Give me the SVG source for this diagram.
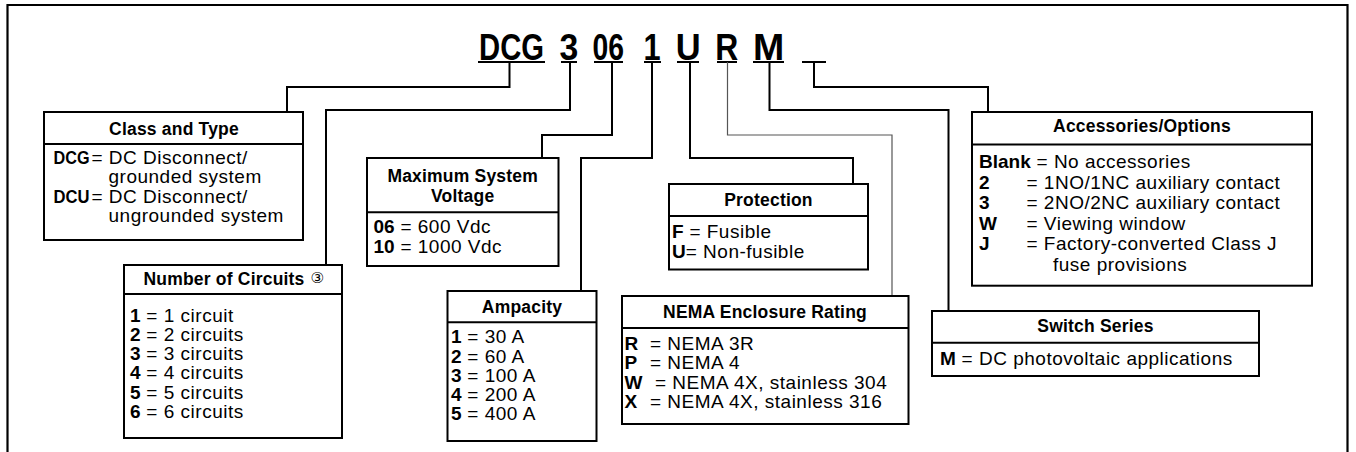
<svg xmlns="http://www.w3.org/2000/svg" width="1356" height="452" viewBox="0 0 1356 452">
<style>
.frame{fill:none;stroke:#000;stroke-width:2.2}
.box{fill:#fff;stroke:#000;stroke-width:2}
.sep{stroke:#000;stroke-width:2}
.con{fill:none;stroke:#000;stroke-width:2}
.con2{fill:none;stroke:#555;stroke-width:1.2}
.ul{stroke:#000;stroke-width:2}
text{font-family:"Liberation Sans",Arial,sans-serif;fill:#000}
.t{font-size:37.5px;font-weight:bold;text-anchor:middle}
.h{font-size:17.5px;font-weight:bold;text-anchor:middle;letter-spacing:0.2px}
.b{font-size:19px;letter-spacing:0.5px}
.k{font-weight:bold;letter-spacing:0}
</style>
<path class="frame" d="M7.5,452 V5 H1347.5 V452"/>
<g id="title">
<text class="t" transform="translate(511.5,60) scale(0.78,1)">DCG</text>
<text class="t" transform="translate(569,60) scale(0.9,1)">3</text>
<text class="t" transform="translate(608.3,60) scale(0.755,1)">06</text>
<text class="t" transform="translate(652,60) scale(0.82,1)">1</text>
<text class="t" transform="translate(688.3,60) scale(0.92,1)">U</text>
<text class="t" transform="translate(726.7,60) scale(0.85,1)">R</text>
<text class="t" transform="translate(768.7,60) scale(1,1)">M</text>
<line class="ul" x1="478" y1="62" x2="545" y2="62"/>
<line class="ul" x1="561" y1="62" x2="577" y2="62"/>
<line class="ul" x1="594" y1="62" x2="623" y2="62"/>
<line class="ul" x1="644" y1="62" x2="661" y2="62"/>
<line class="ul" x1="677" y1="62" x2="699" y2="62"/>
<line class="ul" x1="717" y1="62" x2="737" y2="62"/>
<line class="ul" x1="753" y1="62" x2="784" y2="62"/>
<line class="ul" x1="802" y1="62" x2="826" y2="62"/>
</g>
<g id="connectors">
<path class="con" d="M509.5,62 V87 H287 V112"/>
<path class="con" d="M570,62 V110 H326 V265"/>
<path class="con" d="M612,62 V135 H542 V158"/>
<path class="con" d="M652,62 V158 H581 V291"/>
<path class="con" d="M690,62 V158 H853 V184"/>
<path class="con2" d="M727.5,62 V135 H892 V296"/>
<path class="con" d="M769.5,62 V110 H948.5 V311"/>
<path class="con" d="M814,62 V87 H988 V112"/>
</g>
<g id="class-type">
<rect class="box" x="44" y="112" width="259" height="128"/>
<line class="sep" x1="44" y1="144" x2="303" y2="144"/>
<text class="h" x="174" y="134.7">Class and Type</text>
<text class="b k" x="53.5" y="164" textLength="36" lengthAdjust="spacingAndGlyphs">DCG</text>
<text class="b" x="91.5" y="164">= DC Disconnect/</text>
<text class="b" x="108.5" y="183.3">grounded system</text>
<text class="b k" x="53.5" y="202.5" textLength="36" lengthAdjust="spacingAndGlyphs">DCU</text>
<text class="b" x="91.5" y="202.5">= DC Disconnect/</text>
<text class="b" x="108.5" y="221.5">ungrounded system</text>
</g>
<g id="circuits">
<rect class="box" x="124" y="265" width="218" height="173"/>
<line class="sep" x1="124" y1="294" x2="342" y2="294"/>
<text class="h" x="224" y="285">Number of Circuits</text>
<text x="310.5" y="283" style="font-family:'DejaVu Sans',sans-serif;font-size:15px">③</text>
<text class="b" x="130" y="321.5"><tspan class="k">1</tspan> = 1 circuit</text>
<text class="b" x="130" y="340.8"><tspan class="k">2</tspan> = 2 circuits</text>
<text class="b" x="130" y="360"><tspan class="k">3</tspan> = 3 circuits</text>
<text class="b" x="130" y="379.3"><tspan class="k">4</tspan> = 4 circuits</text>
<text class="b" x="130" y="398.5"><tspan class="k">5</tspan> = 5 circuits</text>
<text class="b" x="130" y="417.7"><tspan class="k">6</tspan> = 6 circuits</text>
</g>
<g id="voltage">
<rect class="box" x="367" y="158" width="191.5" height="108"/>
<line class="sep" x1="367" y1="212.3" x2="558.5" y2="212.3"/>
<text class="h" x="462.7" y="181.7">Maximum System</text>
<text class="h" x="462.7" y="201.7">Voltage</text>
<text class="b" x="373.5" y="233.3"><tspan class="k">06</tspan> = 600 Vdc</text>
<text class="b" x="373.5" y="252.7"><tspan class="k">10</tspan> = 1000 Vdc</text>
</g>
<g id="protection">
<rect class="box" x="669" y="184" width="199" height="85.5"/>
<line class="sep" x1="669" y1="216" x2="868" y2="216"/>
<text class="h" x="768.5" y="206">Protection</text>
<text class="b" x="672" y="238.3"><tspan class="k">F</tspan> = Fusible</text>
<text class="b" x="672" y="258.3"><tspan class="k">U</tspan>= Non-fusible</text>
</g>
<g id="ampacity">
<rect class="box" x="447.5" y="291" width="149" height="150"/>
<line class="sep" x1="447.5" y1="322.3" x2="596.5" y2="322.3"/>
<text class="h" x="522" y="313.3">Ampacity</text>
<text class="b" x="451" y="343.3"><tspan class="k">1</tspan> = 30 A</text>
<text class="b" x="451" y="362.5"><tspan class="k">2</tspan> = 60 A</text>
<text class="b" x="451" y="381.7"><tspan class="k">3</tspan> = 100 A</text>
<text class="b" x="451" y="400.8"><tspan class="k">4</tspan> = 200 A</text>
<text class="b" x="451" y="420"><tspan class="k">5</tspan> = 400 A</text>
</g>
<g id="nema">
<rect class="box" x="622" y="296" width="286.5" height="128"/>
<line class="sep" x1="622" y1="328" x2="908.5" y2="328"/>
<text class="h" x="765" y="318.3">NEMA Enclosure Rating</text>
<text class="b k" x="624.5" y="350">R</text>
<text class="b" x="650" y="350">= NEMA 3R</text>
<text class="b k" x="624.5" y="369.3">P</text>
<text class="b" x="650" y="369.3">= NEMA 4</text>
<text class="b k" x="624.5" y="388.5">W</text>
<text class="b" x="655" y="388.5">= NEMA 4X, stainless 304</text>
<text class="b k" x="624.5" y="407.7">X</text>
<text class="b" x="650" y="407.7">= NEMA 4X, stainless 316</text>
</g>
<g id="switch-series">
<rect class="box" x="932" y="311" width="327" height="65"/>
<line class="sep" x1="932" y1="342.7" x2="1259" y2="342.7"/>
<text class="h" x="1095.5" y="331.7">Switch Series</text>
<text class="b" x="940" y="365"><tspan class="k">M</tspan> = DC photovoltaic applications</text>
</g>
<g id="accessories">
<rect class="box" x="972" y="112" width="340" height="173.7"/>
<line class="sep" x1="972" y1="144.5" x2="1312" y2="144.5"/>
<text class="h" x="1142" y="131.7">Accessories/Options</text>
<text class="b" x="979" y="168"><tspan class="k">Blank</tspan> = No accessories</text>
<text class="b k" x="979" y="188.5">2</text>
<text class="b" x="1026.5" y="188.5">= 1NO/1NC auxiliary contact</text>
<text class="b k" x="979" y="209">3</text>
<text class="b" x="1026.5" y="209">= 2NO/2NC auxiliary contact</text>
<text class="b k" x="979" y="229.5">W</text>
<text class="b" x="1026.5" y="229.5">= Viewing window</text>
<text class="b k" x="979" y="250">J</text>
<text class="b" x="1026.5" y="250">= Factory-converted Class J</text>
<text class="b" x="1053" y="270.5">fuse provisions</text>
</g>
</svg>
